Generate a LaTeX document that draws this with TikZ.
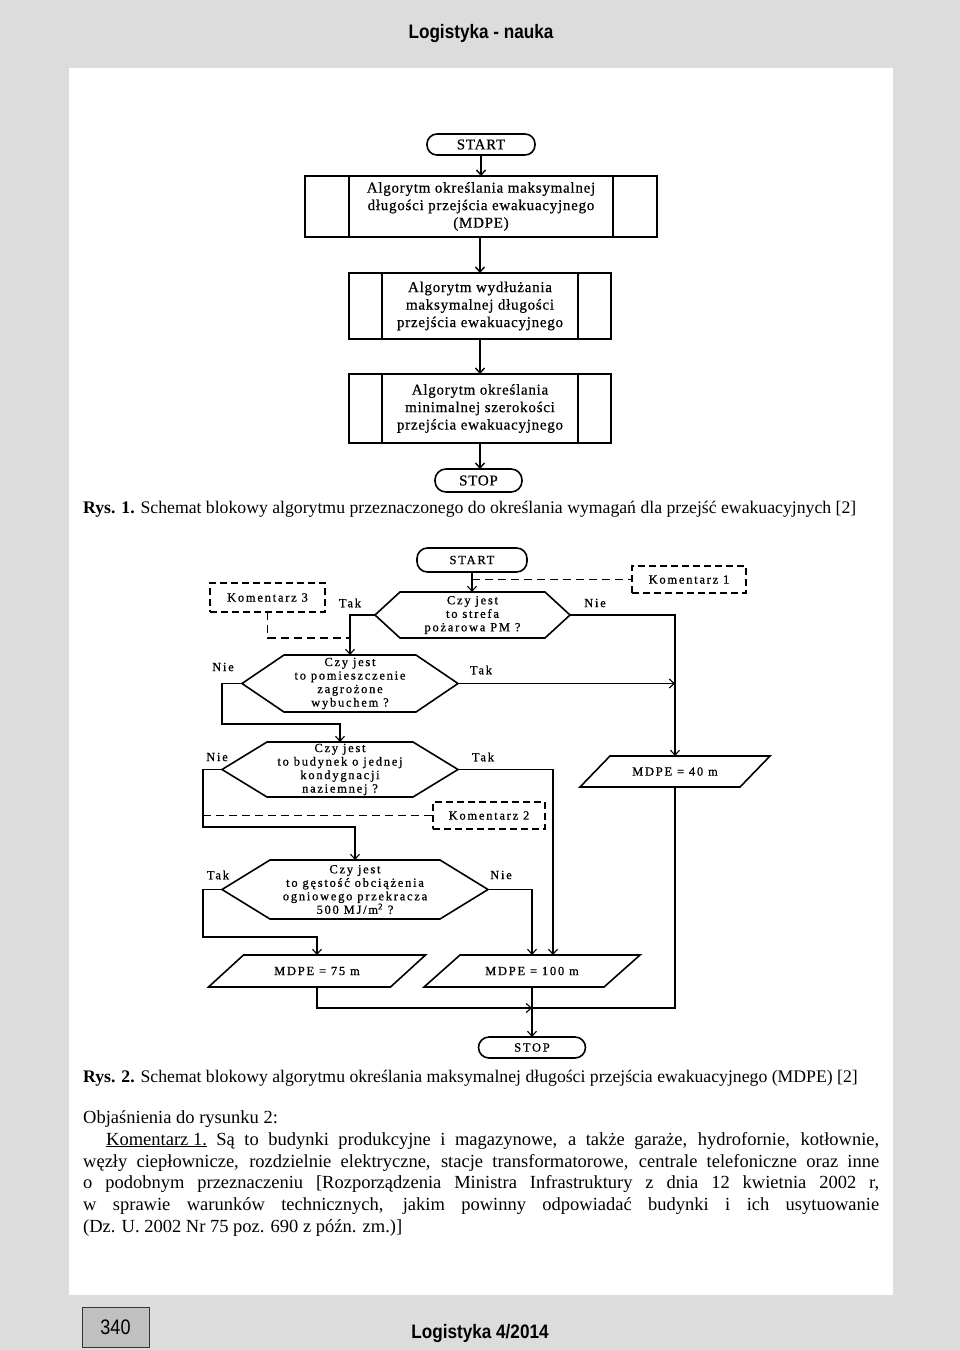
\documentclass[tikz,border=0pt]{standalone}
\usepackage{fontspec}
\setmainfont{Liberation Serif}
\newfontfamily\figA[LetterSpace=5,FakeBold=0.6]{Liberation Serif}
\newfontfamily\figB[LetterSpace=14,FakeBold=0.8]{Liberation Serif}
\newfontfamily\hdfont[FakeStretch=0.88]{Liberation Sans}
\newfontfamily\pgfont[FakeStretch=0.86]{Liberation Sans}
\usetikzlibrary{arrows.meta,calc}
\definecolor{pagegray}{HTML}{DCDCDC}
\definecolor{boxgray}{HTML}{C0C0C0}
\tikzset{
 lineA/.style={line width=1.5pt},
 shpA/.style={draw, line width=1.6pt, inner sep=0pt, outer sep=0pt, align=center, font=\figA\fontsize{15}{17.5}\selectfont},
 termA/.style={shpA, rounded corners=10pt},
 arrA/.style={line width=1.4pt, -{Straight Barb[length=5pt,width=9pt]}},
 txtB/.style={inner sep=0pt, outer sep=0pt, align=center, font=\figB\fontsize{12.5}{13.5}\selectfont},
 shpB/.style={line width=1.6pt},
 boxB/.style={txtB, draw, line width=1.6pt},
 termB/.style={boxB, rounded corners=10.5pt},
 dashbox/.style={txtB, draw, line width=1.4pt, dash pattern=on 7pt off 4pt},
 dashln/.style={line width=1.4pt, dash pattern=on 8pt off 5pt},
 conB/.style={line width=1.1pt},
 arrB/.style={conB, -{Straight Barb[length=5pt,width=9pt]}},
 lbl/.style={inner sep=0pt, font=\figB\fontsize{12.5}{13}\selectfont},
 body/.style={inner sep=0pt, anchor=base west, font=\fontsize{18.5}{22}\selectfont},
 capt/.style={inner sep=0pt, anchor=base west, font=\fontsize{17.7}{22}\selectfont},
 hd/.style={inner sep=0pt, anchor=base, font=\hdfont\bfseries\fontsize{19.5}{19.5}\selectfont},
}
\newcommand\hexpath[2]{\draw[shpB] (#1.north west) -- (#1.north east) -- ($(#1.east)+(#2,0)$) coordinate (#1-R) -- (#1.south east) -- (#1.south west) -- ($(#1.west)-(#2,0)$) coordinate (#1-L) -- cycle;}
\newcommand\parapath[2]{\draw[shpB] ($(#1.north west)+(#2/2,0)$) -- ($(#1.north east)+(#2/2,0)$) -- ($(#1.south east)-(#2/2,0)$) -- ($(#1.south west)-(#2/2,0)$) -- cycle;}
\newcommand\subproc[2]{\draw[lineA] ($(#1.north west)+(#2,0)$) -- ($(#1.south west)+(#2,0)$) ($(#1.north east)-(#2,0)$) -- ($(#1.south east)-(#2,0)$);}
\begin{document}
\begin{tikzpicture}[x=1pt,y=-1pt]
\useasboundingbox (0,0) rectangle (960,1350);
\fill[pagegray] (0,0) rectangle (960,1350);
\fill[white] (69,68) rectangle (893,1295);
% header / footer
\node[hd] (head) at (481,38) {Logistyka - nauka};
\node[hd] (foot) at (480,1338) {Logistyka 4/2014};
\node[draw=black!80, fill=boxgray, line width=1pt, minimum width=67, minimum height=40, inner sep=0pt, font=\pgfont\fontsize{21}{21}\selectfont] (pg) at (115.5,1327) {340};

% ---------- Figure 1 ----------
\node[termA, minimum width=108, minimum height=21] (s1) at (481,144.5) {START};
\node[shpA, minimum width=352, minimum height=61] (b1) at (481,206.5) {Algorytm określania maksymalnej\\długości przejścia ewakuacyjnego\\(MDPE)};
\node[shpA, minimum width=262, minimum height=66] (b2) at (480,306) {Algorytm wydłużania\\maksymalnej długości\\przejścia ewakuacyjnego};
\node[shpA, minimum width=262, minimum height=69] (b3) at (480,408.5) {Algorytm określania\\minimalnej szerokości\\przejścia ewakuacyjnego};
\node[termA, minimum width=87, minimum height=23, rounded corners=11pt] (st1) at (478.5,480.5) {STOP};
\subproc{b1}{44}
\subproc{b2}{33}
\subproc{b3}{33}
\draw[arrA] (s1.south) -- (s1.south |- b1.north);
\draw[arrA] (b1.south -| b2.north) -- (b2.north);
\draw[arrA] (b2.south) -- (b3.north);
\draw[arrA] (b3.south) -- (b3.south |- st1.north);

\node[capt] (cap1) at (83,513) {\textbf{Rys. 1.} Schemat blokowy algorytmu przeznaczonego do określania wymagań dla przejść ewakuacyjnych [2]};

% ---------- Figure 2 ----------
\node[termB, minimum width=110, minimum height=24] (s2) at (472,560) {START};
\node[txtB, minimum width=145, minimum height=46] (h1) at (472.5,615) {Czy jest\\to strefa\\pożarowa PM ?};
\node[txtB, minimum width=132, minimum height=57] (h2) at (350,683.5) {Czy jest\\to pomieszczenie\\zagrożone\\wybuchem ?};
\node[txtB, minimum width=146, minimum height=55] (h3) at (340,769.5) {Czy jest\\to budynek o jednej\\kondygnacji\\naziemnej ?};
\node[txtB, minimum width=170, minimum height=59] (h4) at (355,889.5) {Czy jest\\to gęstość obciążenia\\ogniowego przekracza\\500 MJ/m\textsuperscript{2} ?};
\hexpath{h1}{25}
\hexpath{h2}{42}
\hexpath{h3}{45}
\hexpath{h4}{48}
\node[txtB, minimum width=160, minimum height=31] (p40) at (675,771.5) {MDPE = 40 m};
\node[txtB, minimum width=182, minimum height=32] (p75) at (317,971) {MDPE = 75 m};
\node[txtB, minimum width=180, minimum height=32] (p100) at (532,971) {MDPE = 100 m};
\parapath{p40}{30}
\parapath{p75}{35}
\parapath{p100}{36}
\node[termB, minimum width=107, minimum height=21] (st2) at (532,1047.5) {STOP};
\node[dashbox, minimum width=114, minimum height=27] (k1) at (689,579.5) {Komentarz 1};
\node[dashbox, minimum width=112, minimum height=27] (k2) at (489,815.5) {Komentarz 2};
\node[dashbox, minimum width=115, minimum height=29] (k3) at (267.5,597.5) {Komentarz 3};

\coordinate (j2) at (222,724);
\coordinate (j3) at (203,827);
\coordinate (j4) at (203,937);
\coordinate (in100) at ($(p100.north)+(21,0)$);
\coordinate (mrg) at (532,1008);

\draw[arrB] (s2.south) -- (s2.south |- h1.north);
\draw[dashln] (s2.south |- k1.west) -- (k1.west);
\draw[arrB] (h1-L) -| (h2.north);
\draw[dashln] (k3.south) |- (h1.south -| h2.north);
\draw[arrB] (h1-R) -| (p40.north);
\draw[arrB] (h2-R) -- (h2-R -| p40.north);
\draw[arrB] (h2-L) -| (j2) -| (h3.north);
\draw[arrB] (h3-L) -| (j3) -| (h4.north);
\draw[dashln] (j3 |- k2.west) -- (k2.west);
\draw[arrB] (h3-R) -| (in100);
\draw[arrB] (h4-L) -| (j4) -| (p75.north);
\draw[arrB] (h4-R) -| (p100.north);
\draw[arrB] (p75.south) |- (mrg);
\draw[conB] (p40.south) |- (mrg);
\draw[arrB] (p100.south) -- (st2.north);

\node[lbl] (t1) at (350,603) {Tak};
\node[lbl] (n1) at (595,603) {Nie};
\node[lbl] (n2) at (223,667) {Nie};
\node[lbl] (t2) at (481,670) {Tak};
\node[lbl] (n3) at (217,757) {Nie};
\node[lbl] (t3) at (483,757) {Tak};
\node[lbl] (t4) at (218,875) {Tak};
\node[lbl] (n4) at (501,875) {Nie};

\node[capt] (cap2) at (83,1082) {\textbf{Rys. 2.} Schemat blokowy algorytmu określania maksymalnej długości przejścia ewakuacyjnego (MDPE) [2]};
\node[body] (obj) at (83,1123) {Objaśnienia do rysunku 2:};
\node[body] (l1) at (106,1145) {\makebox[773pt][s]{\underline{Komentarz 1.} Są to budynki produkcyjne i magazynowe, a także garaże, hydrofornie, kotłownie,}};
\node[body] (l2) at (83,1167) {\makebox[796pt][s]{węzły ciepłownicze, rozdzielnie elektryczne, stacje transformatorowe, centrale telefoniczne oraz inne}};
\node[body] (l3) at (83,1188) {\makebox[796pt][s]{o podobnym przeznaczeniu [Rozporządzenia Ministra Infrastruktury z dnia 12 kwietnia 2002 r,}};
\node[body] (l4) at (83,1210) {\makebox[796pt][s]{w sprawie warunków technicznych, jakim powinny odpowiadać budynki i ich usytuowanie}};
\node[body] (l5) at (83,1232) {(Dz. U. 2002 Nr 75 poz. 690 z późn. zm.)]};
\end{tikzpicture}
\end{document}
